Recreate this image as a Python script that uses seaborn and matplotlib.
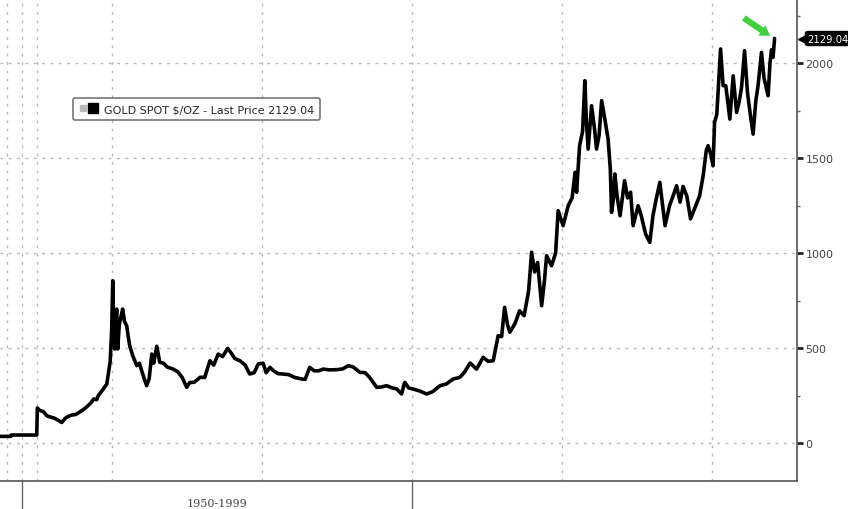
import matplotlib
matplotlib.use('Agg')
import matplotlib.pyplot as plt
import seaborn as sns
from matplotlib.lines import Line2D
from matplotlib.legend_handler import HandlerTuple
from matplotlib.ticker import MultipleLocator, FixedLocator
import matplotlib.transforms as mtransforms

# gold spot $/oz (decimal years)
years = [1972.55, 1973.28, 1973.30, 1975.00, 1975.04, 1975.2, 1975.44, 1975.7, 1975.9, 1976.2,
         1976.45, 1976.67, 1976.9, 1977.1, 1977.33, 1977.6, 1977.9, 1978.1, 1978.33, 1978.6,
         1978.8, 1979.0, 1979.1, 1979.4, 1979.67, 1979.8, 1979.9, 1980.0, 1980.07, 1980.12,
         1980.2, 1980.27, 1980.33, 1980.4, 1980.5, 1980.6, 1980.73, 1980.85, 1981.0, 1981.1,
         1981.2, 1981.4, 1981.55, 1981.67, 1981.85, 1982.0, 1982.2, 1982.33, 1982.5, 1982.67,
         1982.8, 1983.0, 1983.1, 1983.2, 1983.45, 1983.7, 1984.1, 1984.4, 1984.7, 1985.0,
         1985.2, 1985.5, 1985.9, 1986.2, 1986.55, 1986.8, 1987.1, 1987.4, 1987.73, 1988.0,
         1988.2, 1988.55, 1988.9, 1989.2, 1989.5, 1989.77, 1990.1, 1990.3, 1990.55, 1990.8,
         1991.1, 1991.44, 1991.8, 1992.2, 1992.67, 1992.9, 1993.2, 1993.5, 1993.8, 1994.1,
         1994.5, 1995.0, 1995.4, 1995.77, 1996.1, 1996.55, 1996.9, 1997.2, 1997.67, 1998.0,
         1998.33, 1998.7, 1999.0, 1999.33, 1999.5, 1999.55, 1999.8, 2000.1, 2000.5, 2001.0,
         2001.4, 2001.9, 2002.3, 2002.77, 2003.2, 2003.5, 2003.9, 2004.33, 2004.77, 2005.1,
         2005.44, 2005.77, 2006.0, 2006.2, 2006.4, 2006.55, 2006.9, 2007.2, 2007.5, 2007.8,
         2008.0, 2008.2, 2008.4, 2008.67, 2008.85, 2009.0, 2009.33, 2009.6, 2009.77, 2010.1,
         2010.44, 2010.7, 2010.9, 2011.0, 2011.2, 2011.4, 2011.55, 2011.65, 2011.77, 2011.9,
         2012.0, 2012.2, 2012.33, 2012.5, 2012.67, 2012.85, 2013.1, 2013.25, 2013.33, 2013.45,
         2013.55, 2013.7, 2013.9, 2014.2, 2014.4, 2014.6, 2014.77, 2015.1, 2015.3, 2015.6,
         2015.88, 2016.1, 2016.3, 2016.55, 2016.9, 2017.2, 2017.44, 2017.67, 2017.9, 2018.1,
         2018.35, 2018.6, 2018.9, 2019.2, 2019.44, 2019.65, 2019.77, 2019.95, 2020.1, 2020.2,
         2020.35, 2020.6, 2020.77, 2020.95, 2021.22, 2021.44, 2021.67, 2021.85, 2022.0, 2022.2,
         2022.4, 2022.6, 2022.77, 2022.95, 2023.1, 2023.33, 2023.5, 2023.77, 2023.9, 2024.0,
         2024.1, 2024.2]
prices = [35, 35, 42, 42, 184, 172, 165, 142, 137, 130,
          118, 108, 130, 140, 147, 150, 165, 175, 190, 210,
          232, 228, 249, 280, 310, 380, 430, 600, 854, 640,
          495, 640, 705, 495, 620, 660, 705, 640, 617, 560,
          512, 460, 430, 407, 420, 380, 330, 302, 340, 468,
          420, 509, 470, 425, 420, 400, 389, 375, 345, 293,
          318, 320, 346, 345, 433, 410, 468, 455, 498, 470,
          445, 433, 410, 363, 370, 416, 420, 370, 398, 380,
          365, 363, 360, 345, 337, 335, 398, 380, 380, 389,
          385, 386, 390, 407, 400, 372, 370, 345, 293, 295,
          302, 290, 285, 258, 310, 319, 290, 284, 275, 258,
          270, 302, 310, 337, 345, 370, 421, 389, 451, 430,
          433, 565, 560, 714, 620, 583, 630, 696, 670, 800,
          1004, 900, 950, 723, 850, 986, 933, 1000, 1223, 1144,
          1249, 1290, 1425, 1320, 1565, 1640, 1907, 1700, 1547, 1680,
          1775, 1650, 1547, 1620, 1802, 1720, 1600, 1440, 1214, 1280,
          1416, 1300, 1196, 1381, 1290, 1320, 1144, 1249, 1200, 1100,
          1056, 1200, 1280, 1372, 1144, 1250, 1302, 1354, 1268, 1350,
          1300, 1180, 1240, 1300, 1407, 1540, 1565, 1520, 1459, 1688,
          1730, 2074, 1881, 1880, 1705, 1933, 1740, 1800, 1872, 2065,
          1840, 1720, 1626, 1800, 1881, 2056, 1920, 1828, 2004, 2070,
          2030, 2129.04]

x_grid = [1973, 1974, 1975, 1980, 1990, 2000, 2010, 2020]
x_minor = [1985, 1995, 2005, 2015, 2025.6]
y_ticks = [0, 500, 1000, 1500, 2000]
last_price = 2129.04
legend_label = 'GOLD SPOT $/OZ - Last Price 2129.04'
period_label = '1950-1999'

sns.set_style('white')
plt.rcParams['font.family'] = ['DejaVu Sans']

fig = plt.figure(figsize=(8.48, 5.10), dpi=100)
ax = fig.add_axes([0.0, 0.0549, 0.9399, 0.9451])

sns.lineplot(x=years, y=prices, color='black', linewidth=2.6, sort=False,
             estimator=None, ax=ax)

ax.set_xlim(1972.55, 2025.7)
ax.set_ylim(-200, 2337)

ax.xaxis.set_major_locator(FixedLocator(x_grid))
ax.xaxis.set_minor_locator(FixedLocator(x_minor))
ax.set_xticklabels([])
ax.yaxis.tick_right()
ax.set_yticks(y_ticks)
ax.yaxis.set_minor_locator(MultipleLocator(250))
ax.tick_params(axis='y', which='major', direction='out', length=4, width=2,
               color='#222222', labelsize=8, labelcolor='#444444', pad=2)
ax.tick_params(axis='y', which='minor', direction='out', length=2, width=1, color='#666666')
ax.tick_params(axis='x', which='both', direction='inout', length=6, width=1, color='#555555')

ax.grid(True, which='major', color='#b8b8b8', linestyle=(0, (2, 4)), linewidth=1)
for side in ['left', 'top']:
    ax.spines[side].set_visible(False)
for side in ['bottom', 'right']:
    ax.spines[side].set_color('#555555')
    ax.spines[side].set_linewidth(1.2)

# legend box
h = (Line2D([], [], marker='s', color='#bbbbbb', linestyle='none', markersize=4),
     Line2D([], [], marker='s', color='black', linestyle='none', markersize=7))
leg = ax.legend([h], [legend_label], handler_map={tuple: HandlerTuple(ndivide=None, pad=0.15)},
                loc='upper left', bbox_to_anchor=(73 / 797, 1 - 99 / 482),
                fontsize=8, frameon=True, fancybox=True, handlelength=1.6,
                handletextpad=0.6, borderpad=0.55, borderaxespad=0)
leg.get_frame().set_edgecolor('#555555')
leg.get_frame().set_linewidth(1.2)

# last price tag
trans = mtransforms.blended_transform_factory(ax.transAxes, ax.transData)
ax.text(1.013, last_price, f'{last_price:.2f}', transform=trans, color='white',
        fontsize=7.2, va='center', ha='left', clip_on=False,
        bbox=dict(boxstyle='round,pad=0.2', fc='black', ec='black'))
ax.plot([1.006], [last_price], marker='<', color='black', markersize=6,
        transform=trans, clip_on=False)

# green arrow
ax.annotate('', xy=(2024.05, 2135), xytext=(2022.0, 2245),
            arrowprops=dict(arrowstyle='simple,head_width=0.9,head_length=0.7,tail_width=0.45',
                            color='#3fcf3f', lw=0))

# bottom period label
tb = mtransforms.blended_transform_factory(ax.transData, ax.transAxes)
for xv in [1974.0, 2000.0]:
    ax.plot([xv, xv], [0, -0.06], color='#666666', linewidth=1, transform=tb, clip_on=False)
ax.text(1987.0, -0.045, period_label, transform=tb, ha='center', va='center',
        fontsize=8, family='DejaVu Serif', color='#444444')

fig.savefig('out.png', dpi=100)
plt.close(fig)
